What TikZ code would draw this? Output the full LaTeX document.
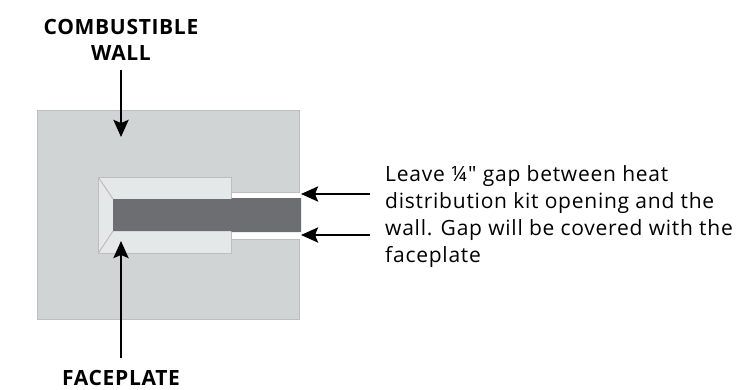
\documentclass[tikz,border=0pt]{standalone}
\usepackage{fontspec}
\setmainfont{Open Sans}
\newfontfamily\notefont[LetterSpace=3.6]{Open Sans}
\newfontfamily\capfont[LetterSpace=3.2]{Open Sans Bold}
\usetikzlibrary{arrows.meta}
\definecolor{wallgray}{HTML}{D1D4D4}
\definecolor{edgegray}{HTML}{BCBEC0}
\definecolor{platelight}{HTML}{E4E8E8}
\definecolor{kitgray}{HTML}{6D6E71}
\tikzset{
  callout/.style={-{Stealth[length=17pt,width=15pt,inset=3pt]},line width=2.7pt,black},
  caption/.style={font=\fontsize{21}{26}\selectfont\capfont,align=center,inner sep=0pt},
  note/.style={font=\fontsize{21}{27}\selectfont\notefont,align=left,inner sep=0pt,anchor=west},
  part/.style={draw=edgegray,line width=1pt}
}
\begin{document}
\begin{tikzpicture}[x=1pt,y=-1pt]
\useasboundingbox (0,0) rectangle (738,390);
% wall with the cut-out
\draw[part,fill=wallgray] (37,111) -- (299,111) -- (299,192) -- (200,192) -- (200,239) -- (299,239) -- (299,319) -- (37,319) -- cycle;
\fill[white] (231,193) rectangle (302,238);
% faceplate
\draw[part,fill=platelight] (98.5,177.5) rectangle (231.5,253);
\draw[part] (98.5,177.5) -- (113,199);
\draw[part] (98.5,253) -- (113,231);
% kit
\fill[kitgray] (113,199) -- (231.5,199) -- (231.5,198) -- (301,198) -- (301,232) -- (231.5,232) -- (231.5,231) -- (113,231) -- cycle;
% labels
\node[caption] (wall) at (121,40) {COMBUSTIBLE\\WALL};
\node[caption] (faceplate) at (121,377.5) {FACEPLATE};
\node[note] (gap) at (385,217) {Leave ¼" gap between heat\\distribution kit opening and the\\wall. Gap will be covered with the\\faceplate};
% arrows
\coordinate (walltip) at (121,137);
\coordinate (platetip) at (121,241);
\coordinate (uppertip) at (301,194);
\coordinate (lowertip) at (301,235);
\coordinate (upperend) at (370,194);
\coordinate (lowerend) at (370,235);
\draw[callout,shorten <=9pt] (wall.south) -- (walltip);
\draw[callout,shorten <=11.5pt] (faceplate.north) -- (platetip);
\draw[callout] (upperend) -- (uppertip);
\draw[callout] (lowerend) -- (lowertip);
\end{tikzpicture}
\end{document}
